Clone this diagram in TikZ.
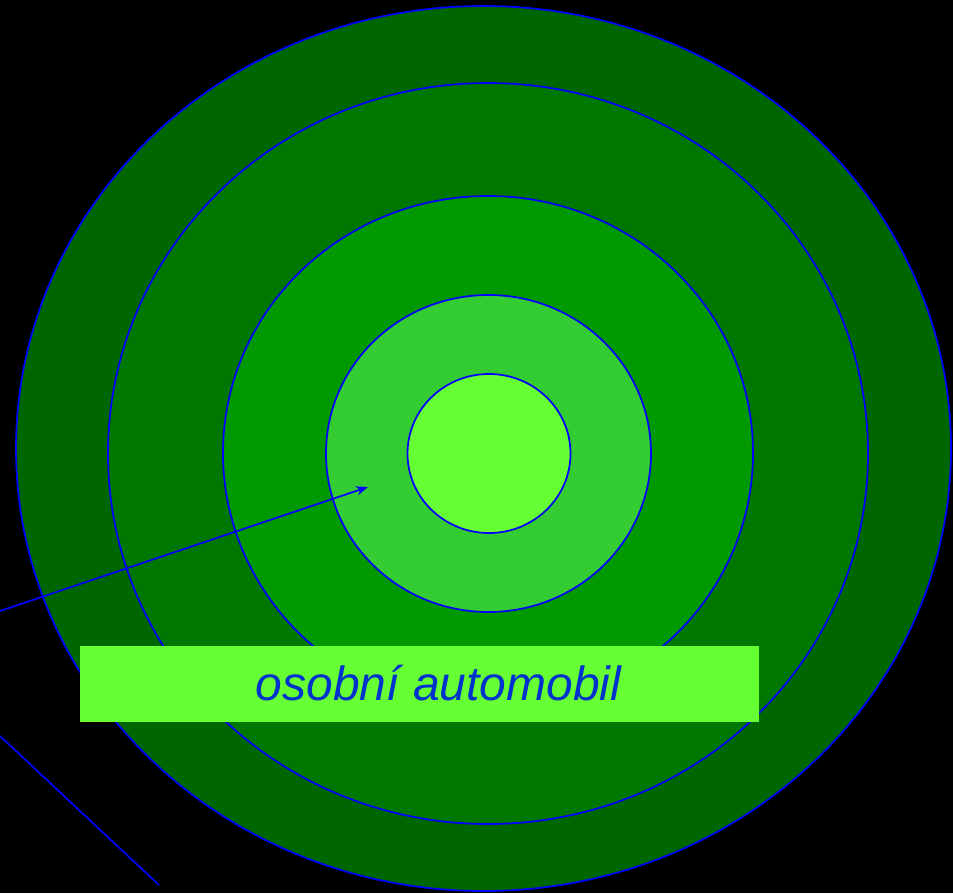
\documentclass[tikz,border=0pt]{standalone}
\usepackage{fontspec}
\setmainfont{Liberation Sans}
\usetikzlibrary{shapes.geometric,arrows.meta}
\definecolor{ringA}{HTML}{006600}
\definecolor{ringB}{HTML}{007700}
\definecolor{ringC}{HTML}{009900}
\definecolor{ringD}{HTML}{33CC33}
\definecolor{ringE}{HTML}{66FF33}
\definecolor{txtblue}{HTML}{0033CC}
\definecolor{lineblue}{HTML}{0000FF}
\tikzset{
  ring/.style={ellipse, draw=lineblue, line width=1.3pt, inner sep=0pt},
  conn/.style={draw=lineblue, line width=1.3pt},
  labelbox/.style={rectangle, fill=ringE, inner sep=0pt, minimum width=509.25pt, minimum height=57pt},
  labeltext/.style={anchor=base, text=txtblue, font=\itshape\fontsize{36}{43}\selectfont, inner sep=0pt}
}
\begin{document}
\begin{tikzpicture}[x=0.75pt,y=-0.75pt]
\fill[black] (0,0) rectangle (953,893);
\useasboundingbox (0,0) rectangle (953,893);
\node[ring, fill=ringA, minimum width=701.25pt, minimum height=663.75pt] (r1) at (483.5,448.5) {};
\node[ring, fill=ringB, minimum width=570pt, minimum height=555.75pt] (r2) at (488,453.5) {};
\node[ring, fill=ringC, minimum width=397.5pt, minimum height=385.5pt] (r3) at (488,453) {};
\node[ring, fill=ringD, minimum width=243.75pt, minimum height=237.75pt] (r4) at (488.5,453.5) {};
\node[ring, fill=ringE, minimum width=122.25pt, minimum height=119.25pt] (r5) at (489,453.5) {};
\coordinate (a0) at (0,611);
\coordinate (a1) at (368,487);
\draw[conn, -{Stealth[length=9pt,width=7pt]}] (a0) -- (a1);
\coordinate (l0) at (0,736);
\coordinate (l1) at (159,885);
\draw[conn] (l0) -- (l1);
\node[labelbox] (box) at (419.5,684) {};
\node[labeltext] (lbl) at (438.5,700) {osobní automobil};
\end{tikzpicture}
\end{document}
